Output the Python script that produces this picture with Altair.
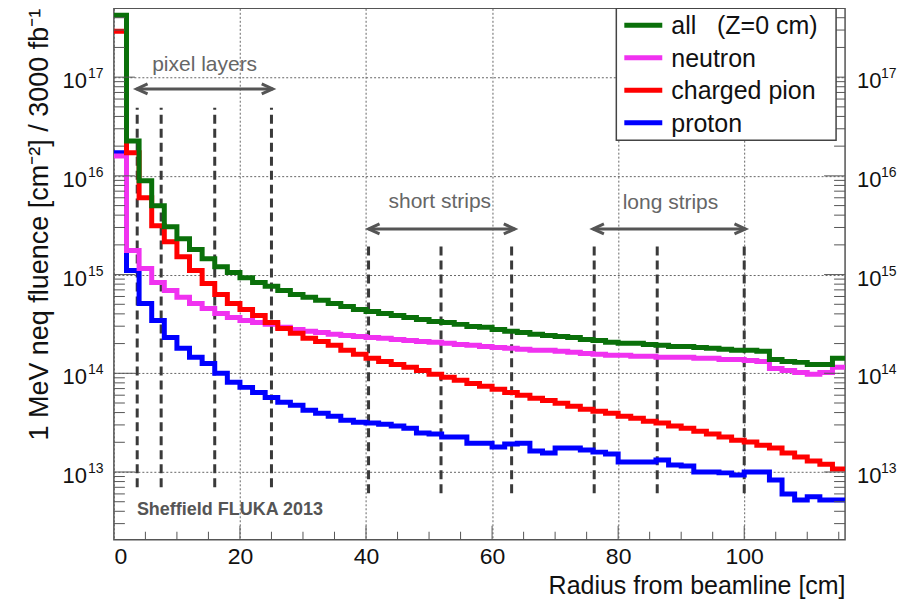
import altair as alt
import pandas as pd

FONT = "Liberation Sans"
W, H = 732, 532

# ---------------- data ----------------
BIN_EDGES = list(range(0, 118, 2))  # 2 cm bins, 0..116 cm

SERIES = ["all\u00a0\u00a0\u00a0(Z=0 cm)", "neutron", "charged pion", "proton"]
COLORS = ["#0a700a", "#f032f0", "#ff0000", "#0000ff"]

ALL = [4.23e17, 2.26e16, 8.9e15, 4.98e15, 3.05e15, 2.31e15, 1.79e15, 1.45e15, 1.20e15, 1.05e15,
       9.3e14, 8.3e14, 7.6e14, 6.9e14, 6.3e14, 5.9e14, 5.5e14, 5.1e14, 4.75e14, 4.43e14,
       4.23e14, 4.04e14, 3.85e14, 3.68e14, 3.51e14, 3.35e14, 3.27e14, 3.13e14, 2.98e14, 2.92e14,
       2.78e14, 2.66e14, 2.59e14, 2.48e14, 2.42e14, 2.36e14, 2.31e14, 2.20e14, 2.15e14, 2.06e14,
       2.01e14, 2.01e14, 1.96e14, 1.92e14, 1.87e14, 1.87e14, 1.83e14, 1.79e14, 1.75e14, 1.71e14,
       1.71e14, 1.67e14, 1.38e14, 1.32e14, 1.29e14, 1.23e14, 1.23e14, 1.42e14]

NEUTRON = [1.59e16, 1.75e15, 1.15e15, 8.3e14, 6.9e14, 5.9e14, 5.1e14, 4.54e14, 4.04e14, 3.68e14,
           3.43e14, 3.27e14, 3.13e14, 2.92e14, 2.78e14, 2.66e14, 2.59e14, 2.48e14, 2.42e14, 2.36e14,
           2.31e14, 2.26e14, 2.20e14, 2.15e14, 2.10e14, 2.06e14, 2.01e14, 1.96e14, 1.92e14, 1.87e14,
           1.83e14, 1.79e14, 1.75e14, 1.71e14, 1.71e14, 1.67e14, 1.63e14, 1.59e14, 1.56e14, 1.52e14,
           1.52e14, 1.49e14, 1.49e14, 1.45e14, 1.45e14, 1.45e14, 1.42e14, 1.42e14, 1.38e14, 1.38e14,
           1.35e14, 1.32e14, 1.12e14, 1.07e14, 1.02e14, 9.8e13, 1.02e14, 1.15e14]

PION = [2.92e17, 1.71e16, 6.0e15, 3.13e15, 2.15e15, 1.52e15, 1.10e15, 8.1e14, 6.3e14, 5.1e14,
        4.43e14, 3.85e14, 3.27e14, 2.85e14, 2.54e14, 2.26e14, 2.10e14, 1.92e14, 1.71e14, 1.56e14,
        1.42e14, 1.32e14, 1.23e14, 1.15e14, 1.07e14, 9.8e13, 9.1e13, 8.5e13, 7.9e13, 7.4e13,
        6.9e13, 6.4e13, 6.0e13, 5.6e13, 5.3e13, 4.98e13, 4.64e13, 4.33e13, 4.13e13, 3.94e13,
        3.68e13, 3.51e13, 3.27e13, 3.13e13, 2.92e13, 2.78e13, 2.59e13, 2.42e13, 2.26e13, 2.10e13,
        2.01e13, 1.87e13, 1.75e13, 1.56e13, 1.42e13, 1.29e13, 1.20e13, 1.07e13]

PROTON = [1.71e16, 1.10e15, 5.1e14, 3.43e14, 2.31e14, 1.79e14, 1.45e14, 1.26e14, 1.00e14, 8.1e13,
          7.2e13, 6.4e13, 5.7e13, 5.1e13, 4.75e13, 4.23e13, 3.94e13, 3.68e13, 3.35e13, 3.20e13,
          3.13e13, 3.05e13, 2.92e13, 2.78e13, 2.48e13, 2.42e13, 2.26e13, 2.26e13, 1.96e13, 1.96e13,
          1.79e13, 1.92e13, 1.96e13, 1.63e13, 1.56e13, 1.75e13, 1.75e13, 1.67e13, 1.59e13, 1.52e13,
          1.26e13, 1.26e13, 1.26e13, 1.32e13, 1.18e13, 1.15e13, 1.00e13, 1.00e13, 9.8e12, 9.3e12,
          1.00e13, 1.00e13, 8.3e12, 6.0e12, 5.2e12, 5.6e12, 5.2e12, 5.2e12]

DECADES = [13, 14, 15, 16, 17]
X_LABELS = [0, 20, 40, 60, 80, 100]

# detector layer radii (cm) and vertical extents of the dashed markers
PIXEL_LAYERS = [3.7, 7.5, 16.0, 25.0]
SHORT_STRIPS = [40.4, 51.9, 63.1]
LONG_STRIPS = [76.2, 86.2, 100.0]
PIXEL_SPAN = [7.0e12, 4.9e16]
STRIP_SPAN = [6.1e12, 1.96e15]

# annotation arrows and labels
ARROW_START = [3.6, 40.4, 76.0]
ARROW_END = [25.2, 63.6, 100.2]
ARROW_LEVEL = [7.6e16, 2.9e15, 2.9e15]
ANNOT_TEXT = ["pixel layers", "short strips", "long strips"]
ANNOT_R = [14.4, 51.7, 88.3]
ANNOT_F = [1.15e17, 4.75e15, 4.6e15]
CREDIT = "Sheffield FLUKA 2013"
CREDIT_R, CREDIT_F = 3.65, 3.68e12

# ---------------- scales / axes ----------------
XS = alt.Scale(domain=[0, 116], nice=False, zero=False)
YS = alt.Scale(type="log", domain=[2.06e12, 4.98e17], nice=False)

XAXIS = alt.Axis(values=X_LABELS, grid=True, gridDash=[2, 2], gridColor="#666", gridWidth=1,
                 ticks=False, domain=False, labelFontSize=23, labelFont=FONT, labelColor="#111",
                 labelPadding=6, title="Radius from beamline [cm]", titleFont=FONT,
                 titleFontSize=25, titleFontWeight="normal", titleColor="#111",
                 titleX=W, titleY=54, titleAlign="right", titleBaseline="alphabetic")
YAXIS = alt.Axis(values=[10.0 ** e for e in DECADES], grid=True, gridDash=[2, 2], gridColor="#666",
                 gridWidth=1, labels=False, ticks=False, domain=False,
                 title="1 MeV neq fluence [cm\u207b\u00b2] / 3000 fb\u207b\u00b9", titleFont=FONT,
                 titleFontSize=27, titleFontWeight="normal", titleColor="#111", titleAngle=270,
                 titleAlign="right", titleBaseline="alphabetic", titleX=-66, titleY=0)


def X(field="r"):
    return alt.X(field, type="quantitative", scale=XS, axis=XAXIS)


def Y(field="f"):
    return alt.Y(field, type="quantitative", scale=YS, axis=YAXIS)


layers = []

# dashed detector markers
det = pd.DataFrame({
    "r": PIXEL_LAYERS + SHORT_STRIPS + LONG_STRIPS,
    "f": [PIXEL_SPAN[0]] * len(PIXEL_LAYERS) + [STRIP_SPAN[0]] * (len(SHORT_STRIPS) + len(LONG_STRIPS)),
    "f2": [PIXEL_SPAN[1]] * len(PIXEL_LAYERS) + [STRIP_SPAN[1]] * (len(SHORT_STRIPS) + len(LONG_STRIPS)),
})
layers.append(alt.Chart(det).mark_rule(color="#3a3a3a", strokeWidth=3, strokeDash=[9, 5]).encode(
    x=X(), y=Y(), y2=alt.Y2("f2")))

# histograms (drawn proton, neutron, pion, all)
for idx in [3, 1, 2, 0]:
    vals = [ALL, NEUTRON, PION, PROTON][idx]
    df = pd.DataFrame({"r": BIN_EDGES, "f": vals + [vals[-1]]})
    layers.append(alt.Chart(df).mark_line(interpolate="step-after", color=COLORS[idx], strokeWidth=5,
                                          strokeCap="butt", strokeJoin="miter", clip=True).encode(
        x=X(), y=Y()))

# arrows
arr = pd.DataFrame({"r": ARROW_START, "r2": ARROW_END, "f": ARROW_LEVEL})
layers.append(alt.Chart(arr).mark_rule(color="#555", strokeWidth=3).encode(x=X(), x2=alt.X2("r2"), y=Y()))
layers.append(alt.Chart(arr).mark_point(shape="M2.2,-1L0,0L2.2,1", size=100, filled=False, color="#555",
                                        strokeWidth=3, opacity=1).encode(x=X(), y=Y()))
layers.append(alt.Chart(arr).mark_point(shape="M-2.2,-1L0,0L-2.2,1", size=100, filled=False, color="#555",
                                        strokeWidth=3, opacity=1).encode(x=X("r2"), y=Y()))

ann = pd.DataFrame({"r": ANNOT_R, "f": ANNOT_F, "t": ANNOT_TEXT})
layers.append(alt.Chart(ann).mark_text(font=FONT, fontSize=21, color="#666", align="center",
                                       baseline="alphabetic").encode(x=X(), y=Y(), text="t:N"))
cred = pd.DataFrame({"r": [CREDIT_R], "f": [CREDIT_F], "t": [CREDIT]})
layers.append(alt.Chart(cred).mark_text(font=FONT, fontSize=18, fontWeight="bold", color="#555",
                                        align="left", baseline="alphabetic").encode(x=X(), y=Y(), text="t:N"))

# inward ticks
ytv = [m * 10.0 ** e for e in range(12, 18) for m in range(1, 10) if 2.06e12 <= m * 10.0 ** e <= 4.98e17]
ymaj = pd.DataFrame({"f": [v for v in ytv if str(v).startswith("1")]})
ymin = pd.DataFrame({"f": [v for v in ytv if not str(v).startswith("1")]})
for df, ln in [(ymaj, 21), (ymin, 11)]:
    layers.append(alt.Chart(df).mark_rule(color="#555", strokeWidth=1).encode(
        y=Y(), x=alt.value(0), x2=alt.value(ln)))
    layers.append(alt.Chart(df).mark_rule(color="#555", strokeWidth=1).encode(
        y=Y(), x=alt.value(W), x2=alt.value(W - ln)))
xtv = list(range(5, 116, 5))
xmaj = pd.DataFrame({"r": [v for v in xtv if v % 20 == 0]})
xmin = pd.DataFrame({"r": [v for v in xtv if v % 20 != 0]})
for df, ln in [(xmaj, 14), (xmin, 8)]:
    layers.append(alt.Chart(df).mark_rule(color="#555", strokeWidth=1).encode(
        x=X(), y=alt.value(H), y2=alt.value(H - ln)))

# y tick labels (left and right), 10 with superscript exponent
lab = pd.DataFrame({"f": [10.0 ** e for e in DECADES], "b": ["10"] * len(DECADES),
                    "e": [str(e) for e in DECADES]})
for xb, xe, al in [(-27, -26, "right"), (744, 768, "left")]:
    layers.append(alt.Chart(lab).mark_text(font=FONT, fontSize=22, color="#111", align=al,
                                           baseline="middle", dy=4).encode(y=Y(), x=alt.value(xb), text="b:N"))
    layers.append(alt.Chart(lab).mark_text(font=FONT, fontSize=14, color="#111", align="left",
                                           baseline="middle", dy=-3).encode(y=Y(), x=alt.value(xe), text="e:N"))

# legend box
one = pd.DataFrame({"a": [0]})
layers.append(alt.Chart(one).mark_rect(fill="white", stroke="#444", strokeWidth=1.5).encode(
    x=alt.value(503), x2=alt.value(723), y=alt.value(0), y2=alt.value(132)))
for i, (name, col) in enumerate(zip(SERIES, COLORS)):
    yy = 17 + 32.5 * i
    ldf = pd.DataFrame({"label": [name]})
    layers.append(alt.Chart(ldf).mark_rule(color=col, strokeWidth=5).encode(
        x=alt.value(511), x2=alt.value(549), y=alt.value(yy)))
    layers.append(alt.Chart(ldf).mark_text(font=FONT, fontSize=25, color="#111", align="left",
                                           baseline="middle", dy=1).encode(
        x=alt.value(558), y=alt.value(yy), text="label:N"))

chart = alt.layer(*layers).properties(
    width=W, height=H,
    autosize=alt.AutoSizeParams(type="none"),
    padding={"left": 106, "top": 0, "right": 62, "bottom": 59},
    background="white",
).configure_view(stroke="#555", strokeWidth=1.5)

chart.save("out.html", embed_options={"renderer": "svg", "actions": False})
